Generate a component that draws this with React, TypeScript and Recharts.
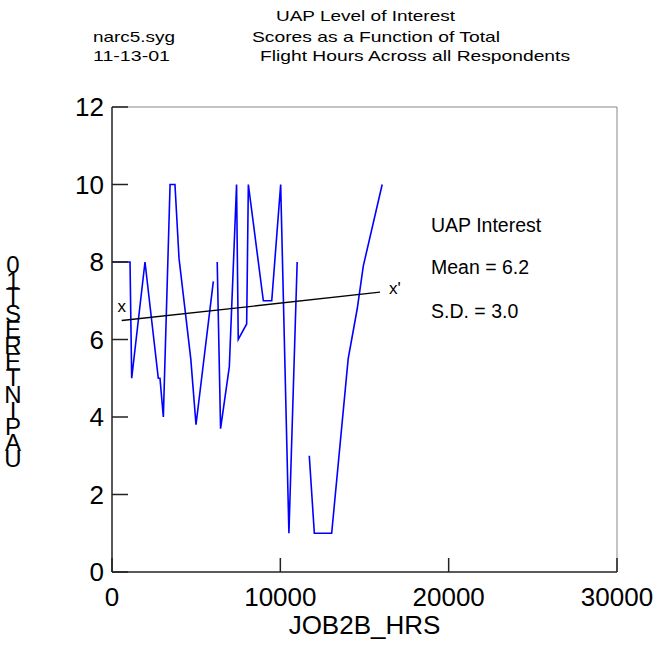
import React from 'react';
import { LineChart, Line, XAxis, YAxis, ReferenceLine, ReferenceDot } from 'recharts';

// flight hours (x) and interest scores (y); null breaks the line
const hours = [0, 1070, 1170, 1960, 2750, 2850, 3050, 3450, 3740, 3980, 4680, 4990, 6020, 6130, 6250, 6450, 6970, 7400, 7500, 8000, 8100, 8990, 9490, 10020, 10510, 11000, 11350, 11720, 12020, 13050, 14030, 14570, 14930, 16050];
const scores = [8, 8, 5, 8, 5, 5, 4, 10, 10, 8.1, 5.5, 3.8, 7.5, null, 8, 3.7, 5.3, 10, 6, 6.4, 10, 7, 7, 10, 1, 8, null, 3, 1, 1, 5.5, 6.8, 7.9, 10];

const xTicks = [0, 10000, 20000, 30000];
const yTicks = [0, 2, 4, 6, 8, 10, 12];

const fitStart = { x: 575, y: 6.49 };
const fitEnd = { x: 15920, y: 7.22 };

const statLines = ['UAP Interest', 'Mean = 6.2', 'S.D. = 3.0'];
const yLabel = 'UAPINTEREST10';

const data = hours.map((h, i) => ({ hrs: h, score: scores[i] }));

const FONT = 'Liberation Sans, Arial, sans-serif';
const AXIS = '#222';

const YTick = (props: any) => {
  const { x, y, payload } = props;
  const ax = x + 8;
  return (
    <g>
      <line x1={ax} x2={ax + 16} y1={y} y2={y} stroke={AXIS} strokeWidth={1.5} />
      <text x={x} y={y} dy={9} textAnchor="end" fontSize={26} fontFamily={FONT} fill="#000">
        {payload.value}
      </text>
    </g>
  );
};

const XTick = (props: any) => {
  const { x, y, payload } = props;
  return (
    <g>
      <line x1={x} x2={x} y1={y - 8} y2={y - 22} stroke={AXIS} strokeWidth={1.5} />
      <text x={x} y={y + 26} textAnchor="middle" fontSize={26} fontFamily={FONT} fill="#000">
        {payload.value}
      </text>
    </g>
  );
};

export default function App() {
  return (
    <div style={{ position: 'absolute', left: 0, top: 0, width: 664, height: 646, background: '#fff', fontFamily: FONT }}>
      <LineChart width={664} height={646} data={data} margin={{ top: 107, right: 47, left: 52, bottom: 34 }}>
        <XAxis
          dataKey="hrs"
          type="number"
          domain={[0, 30000]}
          ticks={xTicks}
          interval={0}
          height={40}
          tickSize={0}
          tickMargin={8}
          tick={<XTick />}
          axisLine={{ stroke: AXIS, strokeWidth: 1.5 }}
          label={{ value: 'JOB2B_HRS', position: 'bottom', offset: 4, fontSize: 26, fill: '#000', fontFamily: FONT }}
        />
        <YAxis
          type="number"
          domain={[0, 12]}
          ticks={yTicks}
          interval={0}
          width={60}
          tickSize={0}
          tickMargin={8}
          tick={<YTick />}
          axisLine={{ stroke: AXIS, strokeWidth: 1.5 }}
        />
        <ReferenceLine y={12} stroke="#888" strokeWidth={1} />
        <ReferenceLine x={30000} stroke="#888" strokeWidth={1} />
        <Line
          type="linear"
          dataKey="score"
          stroke="#0000ff"
          strokeWidth={1.6}
          dot={false}
          connectNulls={false}
          isAnimationActive={false}
        />
        <ReferenceLine segment={[fitStart, fitEnd]} stroke="#000" strokeWidth={1.3} ifOverflow="visible" />
        <ReferenceDot
          x={fitStart.x}
          y={fitStart.y}
          r={0}
          fill="none"
          stroke="none"
          label={{ value: 'x', position: 'top', offset: 9, fontSize: 17, fill: '#000', fontFamily: FONT }}
        />
        <ReferenceDot
          x={fitEnd.x}
          y={fitEnd.y}
          r={0}
          fill="none"
          stroke="none"
          label={{ value: "x'", position: 'right', offset: 9, dy: -4, fontSize: 17, fill: '#000', fontFamily: FONT }}
        />
      </LineChart>
      <svg width={664} height={646} style={{ position: 'absolute', left: 0, top: 0, pointerEvents: 'none' }} fontFamily={FONT}>
        <text x={276} y={21} fontSize={15} textLength={179} lengthAdjust="spacingAndGlyphs">UAP Level of Interest</text>
        <text x={252} y={42} fontSize={15} textLength={248} lengthAdjust="spacingAndGlyphs">Scores as a Function of Total</text>
        <text x={260} y={61} fontSize={15} textLength={310} lengthAdjust="spacingAndGlyphs">Flight Hours Across all Respondents</text>
        <text x={93} y={42} fontSize={15} textLength={82} lengthAdjust="spacingAndGlyphs">narc5.syg</text>
        <text x={93} y={61} fontSize={15} textLength={77} lengthAdjust="spacingAndGlyphs">11-13-01</text>
        {statLines.map((s, i) => (
          <text key={s} x={431} y={[232, 274, 318][i]} fontSize={19.5}>{s}</text>
        ))}
        {yLabel.split('').reverse().map((c, i) => (
          <text key={i} x={13} y={273 + i * 16.2} fontSize={24} textAnchor="middle">{c}</text>
        ))}
      </svg>
    </div>
  );
}
